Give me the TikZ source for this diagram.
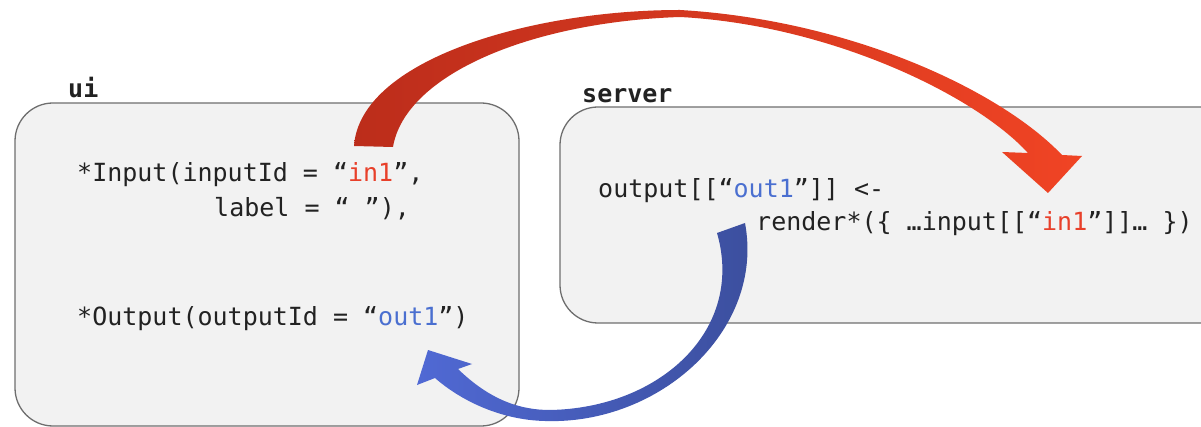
\documentclass[tikz,border=0pt]{standalone}
\usepackage{fontspec}
\setmonofont{DejaVu Sans Mono}
\definecolor{boxfill}{HTML}{F2F2F2}
\definecolor{boxline}{HTML}{6E6E6E}
\definecolor{codetext}{HTML}{222222}
\definecolor{inred}{HTML}{E8402A}
\definecolor{outblue}{HTML}{4A6FD0}
\definecolor{reddark}{HTML}{BC2D1B}
\definecolor{redlight}{HTML}{F04424}
\definecolor{bluedark}{HTML}{3B4E9C}
\definecolor{bluelight}{HTML}{5069D4}
\begin{document}
\begin{tikzpicture}[x=1pt,y=-1pt,
  panel/.style={draw=boxline,fill=boxfill,line width=1.3pt,rounded corners=38pt},
  code/.style={anchor=base west,inner sep=0pt,font=\ttfamily\fontsize{25}{28}\selectfont,text=codetext},
  title/.style={anchor=base west,inner sep=0pt,font=\ttfamily\bfseries\fontsize{25}{28}\selectfont,text=codetext}]
\useasboundingbox (0,0) rectangle (1201,427);
\clip (0,0) rectangle (1201,427);
% panels
\draw[panel] (15,103) rectangle (519,426);
\draw[panel] (560,107) rectangle (1240,323);
\node[title] (uilbl) at (68,98) {ui};
\node[title] (srvlbl) at (582,103) {server};
% ui code
\node[code] (in1) at (77,182) {*Input(inputId = “\textcolor{inred}{in1}”,};
\node[code] (in2) at (214,217) {label = “ ”),};
\node[code] (out1) at (77,325) {*Output(outputId = “\textcolor{outblue}{out1}”)};
% server code
\node[code] (s1) at (598,198) {output[[“\textcolor{outblue}{out1}”]] <-};
\node[code] (s2) at (756,231) {render*(\{ …input[[“\textcolor{inred}{in1}”]]… \})};
% red arrow
\shade[left color=reddark,right color=redlight]
  (354,146) .. controls (360,60) and (530,10) .. (680,10)
  .. controls (850,20) and (1000,90) .. (1062,155)
  -- (1082,156) -- (1048,193) -- (1002,152) -- (1028,153)
  .. controls (975,95) and (830,25) .. (680,17)
  .. controls (530,22) and (405,75) .. (393,147) -- cycle;
% blue arrow
\shade[left color=bluelight,right color=bluedark]
  (745,223) .. controls (765,330) and (660,425) .. (545,421)
  .. controls (500,420) and (460,400) .. (435,378)
  -- (417,385) -- (428,350) -- (472,364) -- (458,369)
  .. controls (490,400) and (520,410) .. (550,410)
  .. controls (660,408) and (745,330) .. (717,233) -- cycle;
\end{tikzpicture}
\end{document}
